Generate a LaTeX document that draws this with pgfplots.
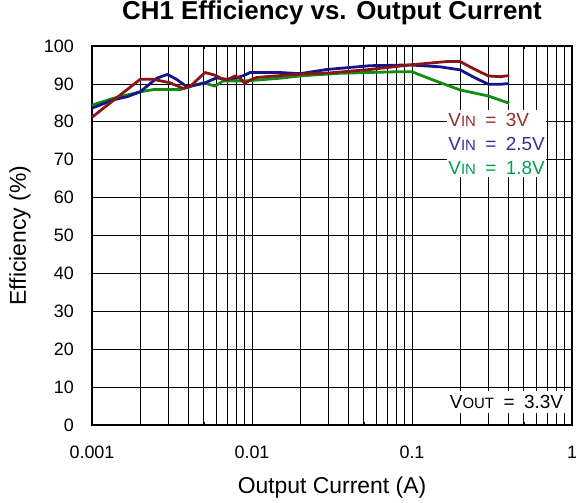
\documentclass[border=0pt]{standalone}
\usepackage{pgfplots}
\pgfplotsset{compat=1.18}
\usepackage{fontspec}
\setmainfont{Liberation Sans}
\definecolor{cred}{RGB}{140,20,20}
\definecolor{cblue}{RGB}{20,20,140}
\definecolor{cgreen}{RGB}{20,140,20}
\definecolor{tred}{RGB}{150,45,45}
\definecolor{tblue}{RGB}{50,50,150}
\definecolor{tgreen}{RGB}{0,160,80}
\newcommand{\sub}[1]{{\fontsize{15}{15}\selectfont #1}}
\newcommand{\eqs}{\hspace{0.5em}=\hspace{0.5em}}
\begin{document}
\begin{tikzpicture}
\useasboundingbox (0,0) rectangle (576bp,503bp);
\begin{axis}[
  at={(92bp,78bp)}, anchor=south west,
  scale only axis, width=480bp, height=379bp,
  xmode=log, xmin=0.001, xmax=1, ymin=0, ymax=100,
  xtick={0.001,0.01,0.1,1}, xticklabels={0.001,0.01,0.1,1},
  ytick={0,10,...,100},
  /pgf/number format/assume math mode=true,
  tick align=inside,
  major tick length=4bp, minor tick length=3bp,
  every tick/.style={black, line width=0.6pt},
  xmajorgrids, xminorgrids, ymajorgrids,
  major grid style={black, line width=0.7pt},
  minor grid style={black, line width=0.7pt},
  axis line style={black, line width=1.2pt},
  ticklabel style={font=\fontsize{18}{18}\selectfont},
  xticklabel style={anchor=center, yshift=-27bp},
  yticklabel style={anchor=east, inner sep=0pt, xshift=-18bp},
  xlabel={Output Current (A)},
  ylabel={Efficiency (\%)},
  label style={font=\fontsize{23}{23}\selectfont},
  xlabel style={at={(axis description cs:0.5,0)}, anchor=center, yshift=-63bp},
  ylabel style={at={(axis description cs:-0.15,0.5)}, anchor=center},
  title={CH1 Efficiency vs. Output Current},
  title style={font=\bfseries\fontsize{26}{26}\selectfont, at={(axis description cs:0.5,1)}, anchor=center, yshift=27bp},
  clip=false,
]
\addplot[cgreen, line width=2.8pt, line join=round] coordinates {
(0.001,84.4) (0.00136,86.2) (0.002,87.9) (0.00242,88.5) (0.00355,88.5)
(0.00497,90.3) (0.00587,89.4) (0.00662,90.8) (0.0093,90.8) (0.015,91.5)
(0.02,92.1) (0.0355,92.8) (0.080,93.2) (0.1,93.2) (0.136,91.0)
(0.2,88.4) (0.3,86.8) (0.405,84.9)
};
\addplot[cblue, line width=2.8pt, line join=round] coordinates {
(0.001,83.6) (0.00136,85.8) (0.00165,86.6) (0.002,87.9) (0.00254,91.5)
(0.00296,92.5) (0.00338,91.2) (0.0039,89.3) (0.00497,90.1) (0.0060,91.6)
(0.00695,91.2) (0.0080,91.6) (0.0090,92.3) (0.0097,93.0) (0.015,93.0)
(0.02,92.7) (0.0293,93.8) (0.0546,94.8) (0.097,95.0) (0.15,94.5)
(0.2,93.7) (0.24,91.9) (0.3,89.9) (0.355,89.9) (0.405,90.1)
};
\addplot[cred, line width=2.8pt, line join=round] coordinates {
(0.001,81.2) (0.002,91.2) (0.00242,91.2) (0.00307,90.3) (0.00372,88.8)
(0.0041,89.3) (0.00508,93.0) (0.00587,92.3) (0.00662,91.2) (0.00711,91.2)
(0.00783,92.1) (0.0084,91.5) (0.00904,90.1) (0.0097,91.0) (0.0107,91.7)
(0.02,92.6) (0.0307,92.9) (0.0546,93.8) (0.097,95.0) (0.165,95.9)
(0.2,95.9) (0.23,94.5) (0.3,92.1) (0.355,91.9) (0.405,92.2)
};
\node[fill=white, inner xsep=1bp, inner ysep=3bp, align=left, anchor=north west,
  font=\fontsize{19}{24}\selectfont] at (rel axis cs:0.740,0.831)
  {\textcolor{tred}{V\sub{IN}\eqs 3V}\\ \textcolor{tblue}{V\sub{IN}\eqs 2.5V}\\ \textcolor{tgreen}{V\sub{IN}\eqs 1.8V}};
\node[fill=white, inner xsep=4bp, inner ysep=4bp, anchor=east,
  font=\fontsize{19}{19}\selectfont] at (rel axis cs:0.99,0.061)
  {V\sub{OUT}\eqs 3.3V};
\end{axis}
\end{tikzpicture}
\end{document}
